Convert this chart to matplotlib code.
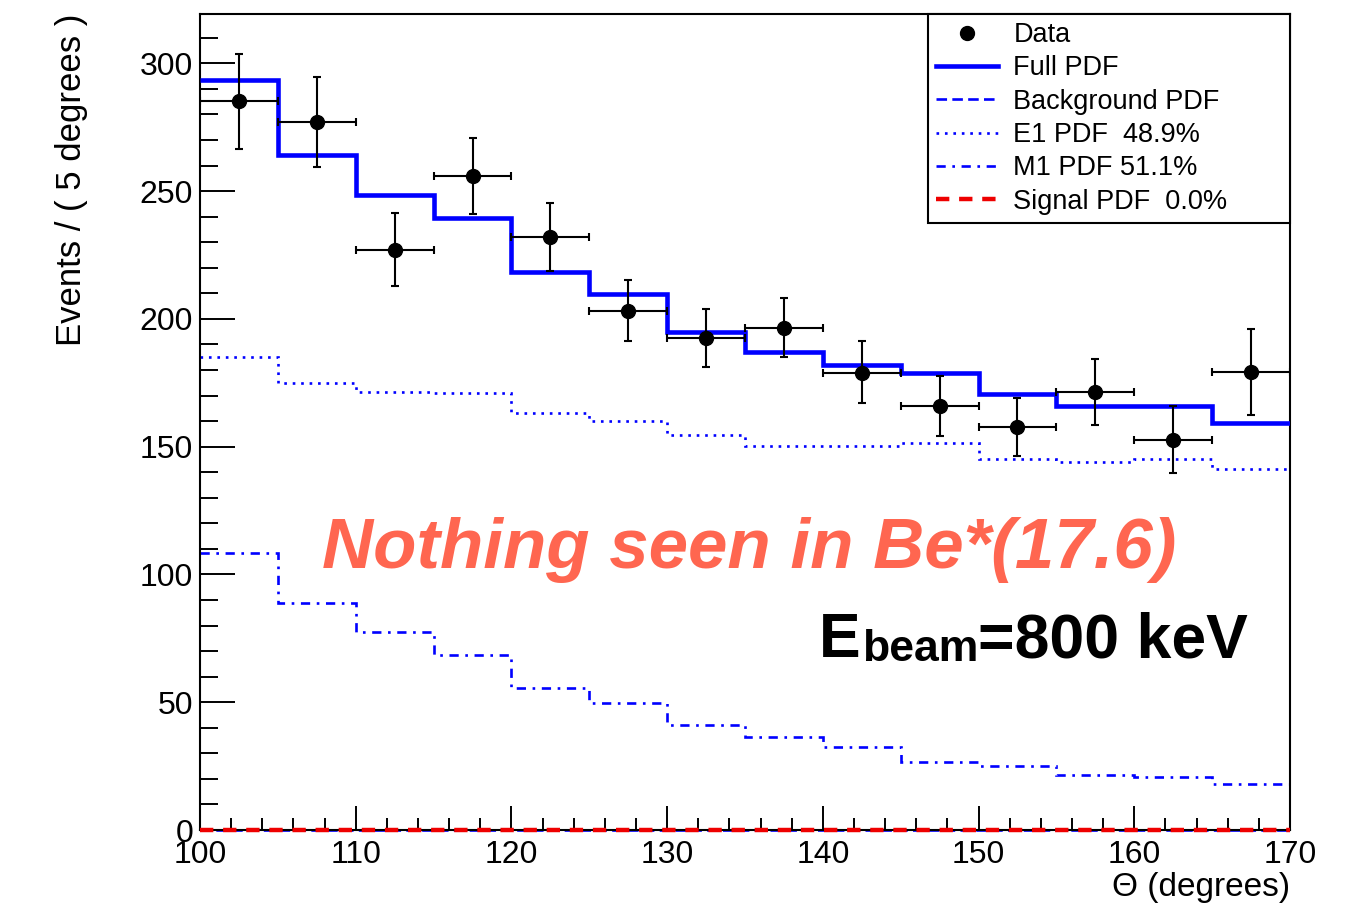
import matplotlib
matplotlib.use("Agg")
import matplotlib.pyplot as plt
import numpy as np

plt.rcParams['font.family'] = ['Liberation Sans', 'DejaVu Sans']

# ---------------- data ----------------
bin_edges = [100, 105, 110, 115, 120, 125, 130, 135, 140, 145, 150, 155, 160, 165, 170]
data_x = [102.5, 107.5, 112.5, 117.5, 122.5, 127.5, 132.5, 137.5, 142.5, 147.5, 152.5, 157.5, 162.5, 167.5]
data_y = [285.2, 277.1, 226.9, 256.0, 231.9, 203.2, 192.7, 196.5, 179.0, 166.0, 157.7, 171.5, 152.8, 179.3]
data_yerr_lo = [18.8, 17.6, 14.2, 15.0, 13.2, 11.9, 11.7, 11.3, 11.8, 11.9, 11.4, 13.1, 13.3, 16.9]
data_yerr_hi = [18.4, 17.4, 14.4, 14.6, 13.3, 12.2, 11.3, 11.8, 12.2, 11.6, 11.5, 12.8, 13.1, 16.6]
data_xerr = [2.5] * 14

full_pdf = [293.4, 264.1, 248.4, 239.3, 218.2, 209.7, 195.0, 186.9, 181.9, 178.7, 170.5, 165.9, 165.9, 159.1]
e1_pdf = [185.2, 175.0, 171.4, 171.0, 163.0, 160.0, 154.5, 150.3, 150.3, 151.6, 145.2, 144.1, 145.2, 141.1]
m1_pdf = [108.5, 89.0, 77.6, 68.5, 55.4, 49.8, 41.2, 36.5, 32.5, 26.7, 25.0, 21.5, 20.6, 18.0]
bkg_pdf = [0.0] * 14
sig_pdf = [0.0] * 14

legend_labels = ["Data", "Full PDF", "Background PDF", "E1 PDF  48.9%", "M1 PDF 51.1%", "Signal PDF  0.0%"]
xlabel = "\u0398 (degrees)"
ylabel = "Events / ( 5 degrees )"
annot_main = "Nothing seen in Be*(17.6)"

# ---------------- figure ----------------
W, H = 1358, 905
fig = plt.figure(figsize=(W / 100, H / 100), dpi=100)
L, R, T, B = 200, 1290, 14, 830
ax = fig.add_axes([L / W, (H - B) / H, (R - L) / W, (B - T) / H])

blue = '#0000ff'
ax.stairs(full_pdf, bin_edges, color=blue, lw=3.3, baseline=None, zorder=3)
ax.stairs(bkg_pdf, bin_edges, color=blue, lw=1.9, ls=(0, (4, 2)), baseline=None, zorder=2, clip_on=False)
ax.stairs(e1_pdf, bin_edges, color=blue, lw=1.9, ls=(0, (1, 2.2)), baseline=None, zorder=2)
ax.stairs(m1_pdf, bin_edges, color=blue, lw=1.9, ls=(0, (3.5, 2.5, 1, 2.5)), baseline=None, zorder=2)
ax.stairs(sig_pdf, bin_edges, color='#ee0000', lw=3.2, ls=(0, (3, 2.2)), baseline=None, zorder=4, clip_on=False)

ax.errorbar(data_x, data_y, yerr=[data_yerr_lo, data_yerr_hi], xerr=data_xerr,
            fmt='o', color='black', ms=10, elinewidth=1.5, capsize=3, capthick=1.5, zorder=5)

ax.set_xlim(100, 170)
ax.set_ylim(0, 319.3)

ax.set_xticks(np.arange(100, 171, 10))
ax.set_xticks(np.arange(100, 171, 2), minor=True)
ax.set_yticks(np.arange(0, 301, 50))
ax.set_yticks(np.arange(0, 311, 10), minor=True)

ax.tick_params(axis='both', which='both', direction='in', top=False, right=False, width=1.4, color='black')
ax.tick_params(axis='y', which='major', length=25, pad=5, labelsize=23)
ax.tick_params(axis='y', which='minor', length=13)
ax.tick_params(axis='x', which='major', length=17, pad=7, labelsize=23)
ax.tick_params(axis='x', which='minor', length=8.6)

for sp in ax.spines.values():
    sp.set_linewidth(1.5)
    sp.set_color('black')

ax.set_ylabel(ylabel, fontsize=25, loc='top')
ax.yaxis.set_label_coords(-(L - 88) / (R - L), 1.0)
ax.set_xlabel(xlabel, fontsize=24, loc='right')
ax.xaxis.set_label_coords(1.0, -(872 - B) / (B - T))
ax.xaxis.label.set_va('top')

from matplotlib.lines import Line2D
hd = Line2D([], [], marker='o', ls='none', color='black', ms=10)
hf = Line2D([], [], color=blue, lw=3.3)
hb = Line2D([], [], color=blue, lw=1.9, ls=(0, (4, 2)))
he = Line2D([], [], color=blue, lw=1.9, ls=(0, (1, 2.2)))
hm = Line2D([], [], color=blue, lw=1.9, ls=(0, (3.5, 2.5, 1, 2.5)))
hs = Line2D([], [], color='#ee0000', lw=3.2, ls=(0, (3, 2.2)))

bx0 = (928 - L) / (R - L)
by0 = (B - 224) / (B - T)
by1 = (B - 14) / (B - T)
leg = ax.legend([hd, hf, hb, he, hm, hs], legend_labels, loc='upper left',
                bbox_to_anchor=(bx0, by0, 1 - bx0, by1 - by0), mode='expand', borderaxespad=0,
                fontsize=19.5, frameon=True, fancybox=False, shadow=False, framealpha=1,
                edgecolor='black', handlelength=2.3, handletextpad=0.55, borderpad=0.3,
                labelspacing=0.27)
leg.get_frame().set_linewidth(1.5)
leg.set_zorder(10)

fig.text(749 / W, (H - 568) / H, annot_main, fontsize=51, fontweight='bold', fontstyle='italic',
         color='#ff6650', ha='center', va='baseline')

# E_beam=800 keV
fig.canvas.draw()
renderer = fig.canvas.get_renderer()
x0 = 819
yb = (H - 657) / H
t1 = fig.text(x0 / W, yb, "E", fontsize=45, fontweight='bold', color='black', ha='left', va='baseline')
e1 = t1.get_window_extent(renderer)
t2 = fig.text(e1.x1 / W + 1 / W, yb - 4 / H, "beam", fontsize=32, fontweight='bold', color='black', ha='left', va='baseline')
e2 = t2.get_window_extent(renderer)
fig.text(e2.x1 / W, yb, "=800 keV", fontsize=45, fontweight='bold', color='black', ha='left', va='baseline')

fig.savefig("out.png", dpi=100)
